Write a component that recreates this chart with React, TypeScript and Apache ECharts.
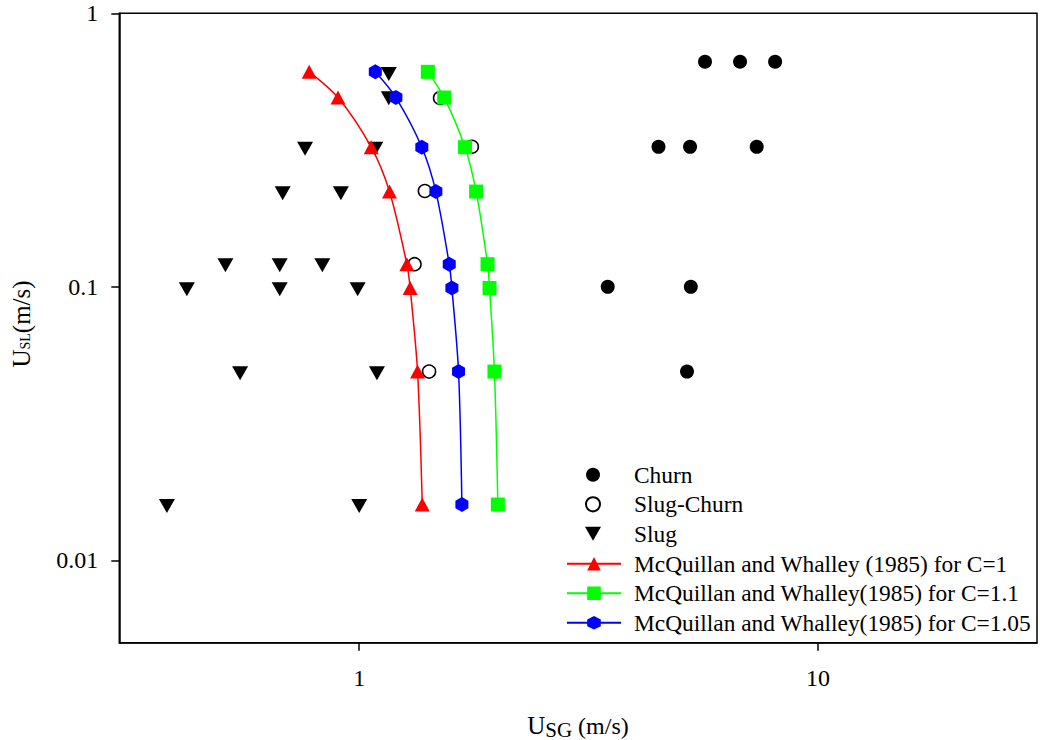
import React, { useEffect, useRef } from 'react';
import * as echarts from 'echarts';

const FONT = '"Liberation Serif", "Times New Roman", Times, serif';

// Churn (filled circles)
const churnX = [5.67, 6.76, 8.06, 4.49, 5.26, 7.35, 3.48, 5.28, 5.18];
const churnY = [0.665, 0.665, 0.665, 0.325, 0.325, 0.325, 0.1, 0.1, 0.049];

// Slug-Churn (open circles)
const slugChurnX = [1.5, 1.76, 1.39, 1.32, 1.42];
const slugChurnY = [0.49, 0.325, 0.224, 0.121, 0.049];

// Slug (down triangles)
const slugX = [1.16, 1.16, 0.762, 1.084, 0.681, 0.912, 0.511, 0.671, 0.831, 0.421, 0.671, 0.992, 0.55, 1.093, 0.381, 1.0];
const slugY = [0.6, 0.489, 0.32, 0.32, 0.22, 0.22, 0.12, 0.12, 0.12, 0.098, 0.098, 0.098, 0.0483, 0.0483, 0.0158, 0.0158];

// McQuillan and Whalley model curves
const modelY = [0.611, 0.492, 0.324, 0.223, 0.121, 0.099, 0.049, 0.016];
const c1X = [0.778, 0.899, 1.062, 1.164, 1.27, 1.291, 1.34, 1.372];
const c11X = [1.411, 1.532, 1.7, 1.798, 1.904, 1.923, 1.971, 2.005];
const c105X = [1.084, 1.202, 1.369, 1.469, 1.571, 1.592, 1.646, 1.674];

const xTicks = [1, 10];
const yTicks = [0.01, 0.1, 1];

const names = [
  'Churn',
  'Slug-Churn',
  'Slug',
  'McQuillan and Whalley (1985) for C=1',
  'McQuillan and Whalley(1985) for C=1.1',
  'McQuillan and Whalley(1985) for C=1.05',
];

const zip = (xs: number[], ys: number[]) => xs.map((x, i) => [x, ys[i]]);
const fmt = (v: number) => String(Number(Number(v).toPrecision(6)));

const HEX = 'path://M0,0 L8.66,5 L8.66,15 L0,20 L-8.66,15 L-8.66,5 Z';
const DOWN_TRI = 'path://M0,0 L16,0 L8,14 Z';

const txt = (text: string, x: number, y: number, size: number) => ({
  type: 'text',
  x,
  y,
  style: {
    text,
    fontFamily: FONT,
    fontSize: size,
    fill: '#000',
    align: 'left',
    verticalAlign: 'middle',
  },
});

export default function App() {
  const ref = useRef<HTMLDivElement>(null);
  useEffect(() => {
    const chart = echarts.init(ref.current!, null, { renderer: 'svg' });
    const axisCommon = {
      axisLine: { show: true, onZero: false, lineStyle: { color: '#000', width: 1.5 } },
      splitLine: { show: false },
      minorTick: { show: false },
      minorSplitLine: { show: false },
    };
    const LEG_FS = 23.4;
    const legendText = (padLeft: number) => ({
      fontFamily: FONT,
      fontSize: LEG_FS,
      color: '#000',
      padding: [0, 0, 0, padLeft],
    });

    // x-axis title pieces (widths from Times metrics)
    const xU = 25, xS = 21, xN = 24;
    const wU = 0.722 * xU;
    const wS = (0.556 + 0.722) * xS;
    const wN = (0.25 + 2.111) * xN;
    const xStart = 578 - (wU + wS + wN) / 2;

    // y-axis title pieces
    const yU = 25, yS = 14, yN = 25;
    const vU = 0.722 * yU;
    const vS = (0.556 + 0.611) * yS;
    const vN = 2.111 * yN;
    const yStart = -(vU + vS + vN) / 2;

    const option: any = {
      animation: false,
      backgroundColor: '#fff',
      grid: {
        left: 119.3,
        top: 13.3,
        right: 3,
        bottom: 97.3,
        show: true,
        borderColor: '#000',
        borderWidth: 1.5,
        containLabel: false,
      },
      xAxis: {
        type: 'log',
        logBase: 10,
        min: 0.3,
        max: 30,
        ...axisCommon,
        axisTick: {
          show: true,
          inside: false,
          length: 8,
          lineStyle: { color: '#000', width: 1.5 },
          customValues: xTicks,
        },
        axisLabel: {
          customValues: xTicks,
          margin: 23,
          fontSize: 24,
          fontFamily: FONT,
          color: '#000',
          formatter: fmt,
        },
      },
      yAxis: {
        type: 'log',
        logBase: 10,
        min: 0.005,
        max: 1,
        ...axisCommon,
        axisTick: {
          show: true,
          inside: false,
          length: 8,
          lineStyle: { color: '#000', width: 1.5 },
          customValues: yTicks,
        },
        axisLabel: {
          customValues: yTicks,
          margin: 21,
          fontSize: 24,
          fontFamily: FONT,
          color: '#000',
          formatter: fmt,
        },
      },
      legend: [
        {
          data: names.slice(0, 3),
          orient: 'vertical',
          left: 585,
          top: 475 - LEG_FS / 2,
          padding: 0,
          itemWidth: 16,
          itemHeight: 14,
          itemGap: 29.9 - LEG_FS,
          textStyle: legendText(28),
          selectedMode: false,
        },
        {
          data: names.slice(3),
          orient: 'vertical',
          left: 566,
          top: 564 - LEG_FS / 2,
          padding: 0,
          itemWidth: 54,
          itemHeight: 17,
          itemGap: 29.9 - LEG_FS,
          textStyle: legendText(8),
          selectedMode: false,
        },
      ],
      graphic: [
        {
          type: 'group',
          children: [
            txt('U', xStart, 725.5, xU),
            txt('SG', xStart + wU, 729.5, xS),
            txt(' (m/s)', xStart + wU + wS, 725.5, xN),
          ],
        },
        {
          type: 'group',
          x: 21.7,
          y: 324,
          rotation: Math.PI / 2,
          children: [
            txt('U', yStart, 0, yU),
            txt('SL', yStart + vU, 3.3, yS),
            txt('(m/s)', yStart + vU + vS, 0, yN),
          ],
        },
      ],
      series: [
        {
          name: names[0],
          type: 'scatter',
          symbol: 'circle',
          symbolSize: 14,
          itemStyle: { color: '#000', opacity: 1 },
          data: zip(churnX, churnY),
        },
        {
          name: names[1],
          type: 'scatter',
          symbol: 'circle',
          symbolSize: 13,
          itemStyle: { color: '#fff', borderColor: '#000', borderWidth: 1.5, opacity: 1 },
          data: zip(slugChurnX, slugChurnY),
        },
        {
          name: names[2],
          type: 'scatter',
          symbol: DOWN_TRI,
          symbolSize: [16, 14],
          itemStyle: { color: '#000', opacity: 1 },
          data: zip(slugX, slugY),
        },
        {
          name: names[3],
          type: 'line',
          symbol: 'triangle',
          symbolSize: [15, 14],
          smooth: 0.3,
          showAllSymbol: true,
          itemStyle: { color: '#ff0000' },
          lineStyle: { color: '#ff0000', width: 1.5 },
          data: zip(c1X, modelY),
        },
        {
          name: names[4],
          type: 'line',
          symbol: 'rect',
          symbolSize: 14,
          smooth: 0.3,
          showAllSymbol: true,
          itemStyle: { color: '#00ff00' },
          lineStyle: { color: '#00ff00', width: 1.5 },
          data: zip(c11X, modelY),
        },
        {
          name: names[5],
          type: 'line',
          symbol: HEX,
          symbolSize: [13, 15],
          smooth: 0.3,
          showAllSymbol: true,
          itemStyle: { color: '#0000ff' },
          lineStyle: { color: '#0000ff', width: 1.5 },
          data: zip(c105X, modelY),
        },
      ],
    };
    chart.setOption(option);
    return () => chart.dispose();
  }, []);
  return (
    <div
      ref={ref}
      style={{ position: 'fixed', left: 0, top: 0, width: 1040, height: 740, background: '#fff' }}
    />
  );
}
